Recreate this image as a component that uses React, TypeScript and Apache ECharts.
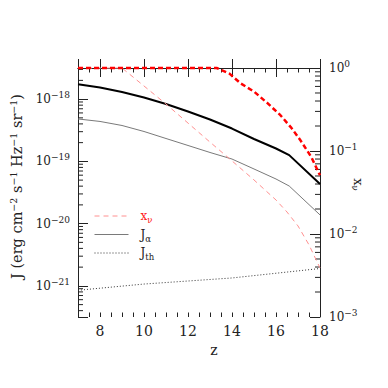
import React, { useEffect, useRef } from "react";
import * as echarts from "echarts";

// ---- data ----
const Z_XV_THICK = [7, 13.3, 13.9, 14.4, 15.0, 15.6, 16.2, 16.7, 17.1, 17.6, 18];
const XV_THICK = [1, 1, 0.85, 0.65, 0.52, 0.38, 0.27, 0.19, 0.136, 0.085, 0.051];

const Z_XV_THIN = [7, 9, 10, 11, 12, 13, 14, 15, 15.5, 16, 16.5, 17, 17.5, 18];
const XV_THIN = [1, 1, 0.607, 0.368, 0.217, 0.128, 0.076, 0.0448, 0.0339, 0.0257, 0.0184, 0.0125, 0.0074, 0.0039];

const Z_J = [7, 8, 9, 10, 11, 12, 13, 14, 15, 16, 16.6, 18];
const J_ALPHA_THICK = [1.73e-18, 1.54e-18, 1.3e-18, 1.06e-18, 8.36e-19, 6.32e-19, 4.71e-19, 3.37e-19, 2.29e-19, 1.61e-19, 1.26e-19, 4.34e-20];
const J_ALPHA_THIN = [4.8e-19, 4.38e-19, 3.77e-19, 3.02e-19, 2.33e-19, 1.8e-19, 1.39e-19, 1.09e-19, 7.55e-20, 5.21e-20, 4.02e-20, 1.38e-20];

const Z_JTH = [7, 10, 14, 18];
const J_TH = [8.5e-22, 1.07e-21, 1.34e-21, 1.9e-21];

const X_MIN = 7;
const X_MAX = 18;
const J_LOG_MIN = -21.5;
const J_LOG_MAX = -17.5;
const XV_LOG_MIN = -3;
const XV_LOG_MAX = 0;

const FONT = "DejaVu Serif";
const AXIS_COLOR = "#222";

const toLogPairs = (zs: number[], vs: number[]) => zs.map((z, i) => [z, Math.log10(vs[i])]);

const minorLogTicks = (lo: number, hi: number) => {
  const out: number[][] = [];
  for (let n = Math.floor(lo); n < Math.ceil(hi); n++) {
    for (let k = 2; k <= 9; k++) {
      const v = n + Math.log10(k);
      if (v > lo && v < hi) out.push([0, v]);
    }
  }
  return out;
};

const supLabel = (v: number) => {
  const e = Math.round(v);
  if (Math.abs(v - e) > 1e-6) return "";
  const s = e < 0 ? "\u2212" + String(-e) : String(e);
  return `10{sup|${s}}`;
};

const richSup = {
  sup: { fontSize: 9, fontFamily: FONT, color: AXIS_COLOR, padding: [0, 0, 8, 0] },
};

export default function App() {
  const ref = useRef<HTMLDivElement>(null);

  useEffect(() => {
    if (!ref.current) return;
    const chart = echarts.init(ref.current, undefined, { renderer: "svg" });

    const baseX = {
      type: "value" as const,
      min: X_MIN,
      max: X_MAX,
      splitLine: { show: false },
    };

    const minorRender = (side: "left" | "right") => (params: any, api: any) => {
      const v = api.value(1);
      const xv = side === "left" ? X_MIN : X_MAX;
      const p = api.coord([xv, v]);
      const len = 5;
      return {
        type: "line",
        shape: { x1: p[0], y1: p[1], x2: side === "left" ? p[0] + len : p[0] - len, y2: p[1] },
        style: { stroke: AXIS_COLOR, lineWidth: 1 },
      };
    };

    const hidden = { opacity: 0 };

    chart.setOption({
      animation: false,
      backgroundColor: "#fff",
      grid: { left: 72, right: 68, top: 68, bottom: 71, containLabel: false },
      legend: {
        orient: "vertical",
        left: 94,
        top: 210,
        padding: 0,
        itemWidth: 34,
        itemHeight: 10,
        itemGap: 4,
        selectedMode: false,
        lineStyle: { width: 1 },
        data: [
          { name: "x_nu", textStyle: { color: "#ff2020" }, itemStyle: hidden },
          { name: "J_alpha", textStyle: { color: "#222" }, itemStyle: hidden },
          { name: "J_th", textStyle: { color: "#222" }, itemStyle: hidden },
        ],
        formatter: (name: string) => {
          if (name === "x_nu") return "{m|x}{s|\u03bd}";
          if (name === "J_alpha") return "{m|J}{s|\u03b1}";
          return "{m|J}{s|th}";
        },
        textStyle: {
          fontFamily: FONT,
          fontSize: 12,
          padding: [0, 0, 0, 7],
          rich: {
            m: { fontSize: 12, fontFamily: FONT },
            s: { fontSize: 8.5, fontFamily: FONT, padding: [8, 0, 0, 0] },
          },
        },
      },
      xAxis: [
        {
          ...baseX,
          position: "bottom",
          splitNumber: 5,
          name: "z",
          nameLocation: "middle",
          nameGap: 26,
          nameTextStyle: { fontFamily: FONT, fontSize: 14, color: AXIS_COLOR, padding: [0, 0, 0, 30] },
          axisLine: { show: true, lineStyle: { color: AXIS_COLOR, width: 1 } },
          axisTick: { show: true, inside: true, length: 9, lineStyle: { color: AXIS_COLOR } },
          axisLabel: {
            margin: 7,
            fontFamily: FONT,
            fontSize: 14,
            color: AXIS_COLOR,
            formatter: (v: number) => (v % 2 === 0 ? String(v) : ""),
          },
        },
        {
          ...baseX,
          position: "bottom",
          interval: 0.5,
          axisLine: { show: false },
          axisTick: { show: true, inside: true, length: 4.5, lineStyle: { color: AXIS_COLOR } },
          axisLabel: { show: false },
        },
        {
          ...baseX,
          position: "top",
          splitNumber: 5,
          axisLine: { show: true, lineStyle: { color: AXIS_COLOR, width: 1 } },
          axisTick: { show: true, inside: true, length: 9, lineStyle: { color: AXIS_COLOR } },
          axisLabel: { show: false },
        },
        {
          ...baseX,
          position: "top",
          interval: 0.5,
          axisLine: { show: false },
          axisTick: { show: true, inside: true, length: 4.5, lineStyle: { color: AXIS_COLOR } },
          axisLabel: { show: false },
        },
      ],
      yAxis: [
        {
          type: "value",
          position: "left",
          min: J_LOG_MIN,
          max: J_LOG_MAX,
          splitNumber: 4,
          splitLine: { show: false },
          name: "J (erg cm{sup|\u22122} s{sup|\u22121} Hz{sup|\u22121} sr{sup|\u22121})",
          nameLocation: "middle",
          nameRotate: 90,
          nameGap: 52,
          nameTextStyle: {
            fontFamily: FONT,
            fontSize: 14.5,
            color: AXIS_COLOR,
            padding: [0, 0, 0, 12],
            rich: { sup: { fontSize: 9.5, fontFamily: FONT, color: AXIS_COLOR, padding: [0, 0, 8, 0] } },
          },
          axisLine: { show: true, lineStyle: { color: AXIS_COLOR, width: 1 } },
          axisTick: { show: true, inside: true, length: 10, lineStyle: { color: AXIS_COLOR } },
          axisLabel: {
            margin: 8,
            fontFamily: FONT,
            fontSize: 12,
            color: AXIS_COLOR,
            formatter: supLabel,
            rich: richSup,
          },
        },
        {
          type: "value",
          position: "right",
          min: XV_LOG_MIN,
          max: XV_LOG_MAX,
          interval: 1,
          splitLine: { show: false },
          name: "x{s|\u03bd}",
          nameLocation: "middle",
          nameRotate: -90,
          nameGap: 30,
          nameMoveOverlap: false,
          nameTextStyle: {
            fontFamily: FONT,
            fontSize: 13,
            color: AXIS_COLOR,
            padding: [0, 16, 0, 0],
            rich: { s: { fontSize: 8.5, fontFamily: FONT, color: AXIS_COLOR, padding: [8, 0, 0, 0] } },
          },
          axisLine: { show: true, lineStyle: { color: AXIS_COLOR, width: 1 } },
          axisTick: { show: true, inside: true, length: 10, lineStyle: { color: AXIS_COLOR } },
          axisLabel: {
            margin: 9,
            fontFamily: FONT,
            fontSize: 12,
            color: AXIS_COLOR,
            formatter: supLabel,
            rich: richSup,
          },
        },
      ],
      series: [
        {
          type: "custom",
          name: "minorLeft",
          xAxisIndex: 0,
          yAxisIndex: 0,
          silent: true,
          clip: false,
          renderItem: minorRender("left"),
          data: minorLogTicks(J_LOG_MIN, J_LOG_MAX),
        },
        {
          type: "custom",
          name: "minorRight",
          xAxisIndex: 0,
          yAxisIndex: 1,
          silent: true,
          clip: false,
          renderItem: minorRender("right"),
          data: minorLogTicks(XV_LOG_MIN, XV_LOG_MAX),
        },
        {
          type: "line",
          name: "J_th",
          xAxisIndex: 0,
          yAxisIndex: 0,
          symbol: "none",
          data: toLogPairs(Z_JTH, J_TH),
          lineStyle: { color: "#333", width: 1, type: [1, 2] },
          itemStyle: { color: "#333" },
        },
        {
          type: "line",
          name: "J_alpha",
          xAxisIndex: 0,
          yAxisIndex: 0,
          symbol: "none",
          data: toLogPairs(Z_J, J_ALPHA_THIN),
          lineStyle: { color: "#7a7a7a", width: 1 },
          itemStyle: { color: "#7a7a7a" },
        },
        {
          type: "line",
          name: "J_alpha_thick",
          xAxisIndex: 0,
          yAxisIndex: 0,
          symbol: "none",
          data: toLogPairs(Z_J, J_ALPHA_THICK),
          lineStyle: { color: "#000", width: 2 },
          itemStyle: { color: "#000" },
        },
        {
          type: "line",
          name: "x_nu",
          xAxisIndex: 0,
          yAxisIndex: 1,
          symbol: "none",
          clip: false,
          data: toLogPairs(Z_XV_THIN, XV_THIN),
          lineStyle: { color: "#ff9090", width: 1, type: [5, 4] },
          itemStyle: { color: "#ff9090" },
        },
        {
          type: "line",
          name: "x_nu_thick",
          xAxisIndex: 0,
          yAxisIndex: 1,
          symbol: "none",
          clip: false,
          z: 5,
          data: toLogPairs(Z_XV_THICK, XV_THICK),
          lineStyle: { color: "#ff0000", width: 2.5, type: [5, 3] },
          itemStyle: { color: "#ff0000" },
        },
      ],
    });

    return () => chart.dispose();
  }, []);

  return (
    <div
      ref={ref}
      style={{ position: "fixed", left: 0, top: 0, width: 388, height: 388, background: "#fff" }}
    />
  );
}
